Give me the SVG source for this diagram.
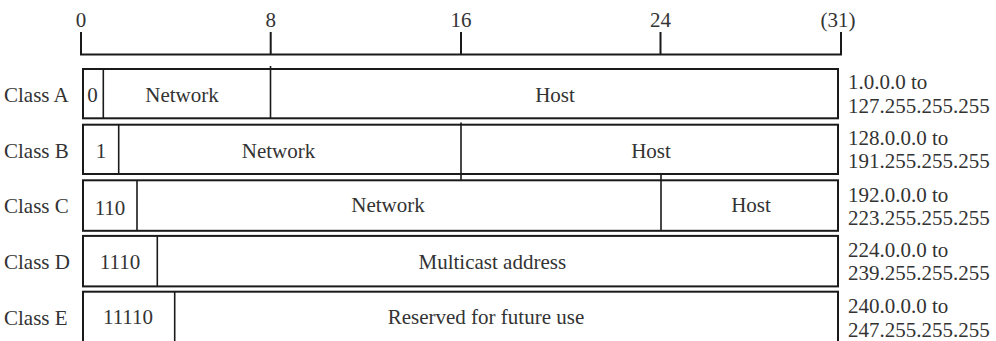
<svg xmlns="http://www.w3.org/2000/svg" width="996" height="341" viewBox="0 0 996 341">
<style>
text{font-family:"Liberation Serif","Times New Roman",serif;font-size:21px;fill:#333}
.m{text-anchor:middle}
.box{fill:#fff;stroke:#1a1a1a;stroke-width:2}
.div{stroke:#1a1a1a;stroke-width:1.6}
.sc{stroke:#1a1a1a;stroke-width:2;fill:none}
</style>
<rect width="996" height="341" fill="#fff"/>
<g id="scale" font-family="Liberation Serif">
<path class="sc" d="M81,32V54.5H841V32M270.7,32V54.5M461,32V54.5M660.5,32V54.5"/>
<text class="m" x="81" y="26.5">0</text>
<text class="m" x="270.7" y="26.5">8</text>
<text class="m" x="461" y="26.5">16</text>
<text class="m" x="660.5" y="26.5">24</text>
<text class="m" x="838" y="26.5">(31)</text>
</g>
<g id="classA">
<text x="4" y="102">Class A</text>
<rect class="box" x="83" y="69" width="755" height="49.3"/>
<line class="div" x1="103.3" y1="69" x2="103.3" y2="118"/>
<line class="div" x1="270.5" y1="66" x2="270.5" y2="118"/>
<text class="m" x="92.5" y="102">0</text>
<text class="m" x="182" y="102">Network</text>
<text class="m" x="555" y="102">Host</text>
<text x="848" y="88.5">1.0.0.0 to</text>
<text x="848" y="113">127.255.255.255</text>
</g>
<g id="classB">
<text x="4" y="157.5">Class B</text>
<rect class="box" x="83" y="124.7" width="755" height="49.3"/>
<line class="div" x1="118.7" y1="124.7" x2="118.7" y2="174"/>
<line class="div" x1="461" y1="122.5" x2="461" y2="180"/>
<text class="m" x="101" y="157.5">1</text>
<text class="m" x="278.5" y="157.5">Network</text>
<text class="m" x="651" y="157.5">Host</text>
<text x="848" y="144.5">128.0.0.0 to</text>
<text x="848" y="167.5">191.255.255.255</text>
</g>
<g id="classC">
<text x="4" y="213.3">Class C</text>
<rect class="box" x="83" y="180.3" width="755" height="50.5"/>
<line class="div" x1="137" y1="180.3" x2="137" y2="230.8"/>
<line class="div" x1="661" y1="175" x2="661" y2="230.8"/>
<text class="m" x="110" y="215">110</text>
<text class="m" x="388" y="212">Network</text>
<text class="m" x="751" y="212.3">Host</text>
<text x="848" y="201.5">192.0.0.0 to</text>
<text x="848" y="225">223.255.255.255</text>
</g>
<g id="classD">
<text x="4" y="269.2">Class D</text>
<rect class="box" x="83" y="235.9" width="755" height="50.5"/>
<line class="div" x1="157.3" y1="235.9" x2="157.3" y2="286.4"/>
<text class="m" x="120" y="269.2">1110</text>
<text class="m" x="492.3" y="269">Multicast address</text>
<text x="848" y="256.5">224.0.0.0 to</text>
<text x="848" y="280">239.255.255.255</text>
</g>
<g id="classE">
<text x="4" y="324.8">Class E</text>
<rect class="box" x="83" y="291.7" width="755" height="52"/>
<line class="div" x1="174.7" y1="291.7" x2="174.7" y2="343"/>
<text class="m" x="128" y="323.5">11110</text>
<text class="m" x="486" y="324.4">Reserved for future use</text>
<text x="848" y="312.5">240.0.0.0 to</text>
<text x="848" y="336.5">247.255.255.255</text>
</g>
</svg>
